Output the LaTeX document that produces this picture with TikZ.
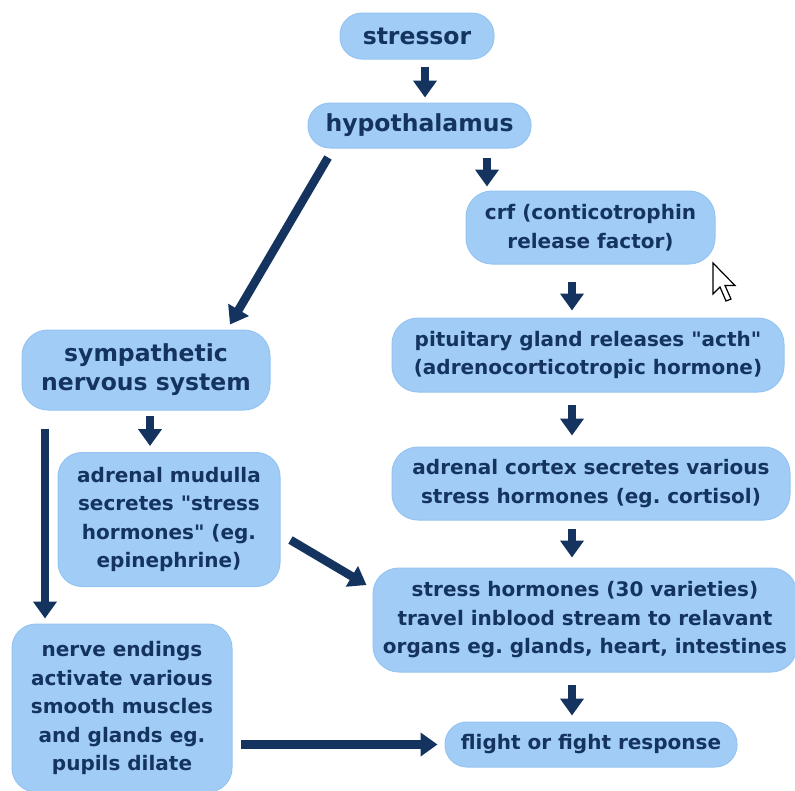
\documentclass[tikz,border=0pt]{standalone}
\usepackage{fontspec}
\setmainfont{DejaVu Sans}
\usetikzlibrary{arrows.meta,calc}
\definecolor{boxfill}{RGB}{160,204,246}
\definecolor{boxedge}{RGB}{150,196,242}
\definecolor{navy}{RGB}{20,52,95}
\newcommand{\dq}{\textquotedbl}
\begin{document}
\frenchspacing
\begin{tikzpicture}[x=1pt,y=-1pt,
  box/.style={fill=boxfill,draw=boxedge,line width=1pt,rounded corners=21pt,
    align=center,text=navy,font=\bfseries\fontsize{20}{28.5}\selectfont,inner sep=0pt},
  bigbox/.style={box,font=\bfseries\fontsize{23.5}{29}\selectfont},
  arr/.style={draw=navy,line width=8.5pt,-{Triangle[width=23pt,length=17pt]}}]
\useasboundingbox (0,0) rectangle (795,790);
\fill[white] (0,0) rectangle (795,790);

\node[bigbox,minimum width=154pt,minimum height=46pt,rounded corners=22pt] (stressor) at (417,36) {stressor};
\node[bigbox,minimum width=223pt,minimum height=45pt,rounded corners=22pt] (hypo) at (419.5,125.5) {hypothalamus};
\node[box,minimum width=249pt,minimum height=73pt,rounded corners=26pt] (crf) at (590.5,227.5) {crf (conticotrophin\\release factor)};
\node[bigbox,minimum width=248pt,minimum height=80pt,rounded corners=26pt] (symp) at (146,370) {sympathetic\\nervous system};
\node[box,minimum width=222pt,minimum height=134pt,rounded corners=24pt] (admed) at (169,519.5) {adrenal mudulla\\secretes \dq stress\\hormones\dq{} (eg.\\epinephrine)};
\node[box,minimum width=220pt,minimum height=168pt,rounded corners=24pt] (nerve) at (122,708) {nerve endings\\activate various\\smooth muscles\\and glands eg.\\pupils dilate};
\node[box,minimum width=392pt,minimum height=74pt,rounded corners=26pt] (pit) at (588,355) {pituitary gland releases \dq acth\dq\\(adrenocorticotropic hormone)};
\node[box,minimum width=398pt,minimum height=73pt,rounded corners=26pt] (cortex) at (591,483.5) {adrenal cortex secretes various\\stress hormones (eg. cortisol)};
\node[box,minimum width=424pt,minimum height=104pt,rounded corners=26pt] (stress) at (585,620) {stress hormones (30 varieties)\\travel inblood stream to relavant\\organs eg. glands, heart, intestines};
\node[box,minimum width=292pt,minimum height=45pt,rounded corners=22pt] (flight) at (591,744.5) {flight or fight response};

% arrows
\draw[arr] ([shift={(8,7)}]stressor.south) -- ([shift={(8,-5)}]stressor.south |- hypo.north);
\draw[arr] ([shift={(67.5,9)}]hypo.south) -- ([shift={(67.5,-4)}]hypo.south |- crf.north);
\draw[arr] ([shift={(-91.5,9)}]hypo.south) -- ([shift={(84,-5)}]symp.north);
\draw[arr] ([shift={(-18.5,17)}]crf.south) -- ([shift={(-18.5,-7)}]crf.south |- pit.north);
\draw[arr] ([shift={(4,5)}]symp.south) -- ([shift={(4,-6)}]symp.south |- admed.north);
\draw[arr] ([shift={(-101,18)}]symp.south) -- ([shift={(-101,-5)}]symp.south |- nerve.north);
\draw[arr] ([shift={(-16,12)}]pit.south) -- ([shift={(-16,-11)}]pit.south |- cortex.north);
\draw[arr] ([shift={(-19,8)}]cortex.south) -- ([shift={(-19,-10)}]cortex.south |- stress.north);
\draw[arr] ([shift={(10,20.5)}]admed.east) -- ([shift={(-6,-35)}]stress.west);
\draw[arr] ([shift={(-13,12)}]stress.south) -- ([shift={(-13,-6)}]stress.south |- flight.north);
\draw[arr] ([shift={(8,0)}]nerve.east |- flight.west) -- ([shift={(-7,0)}]flight.west);

% mouse cursor
\draw[fill=white,draw=black,line width=1.2pt,line join=miter]
  (713,263) -- (713,294) -- (720,287) -- (726,301) -- (731,299) -- (725,285.5) -- (735,285.5) -- cycle;
\end{tikzpicture}
\end{document}
